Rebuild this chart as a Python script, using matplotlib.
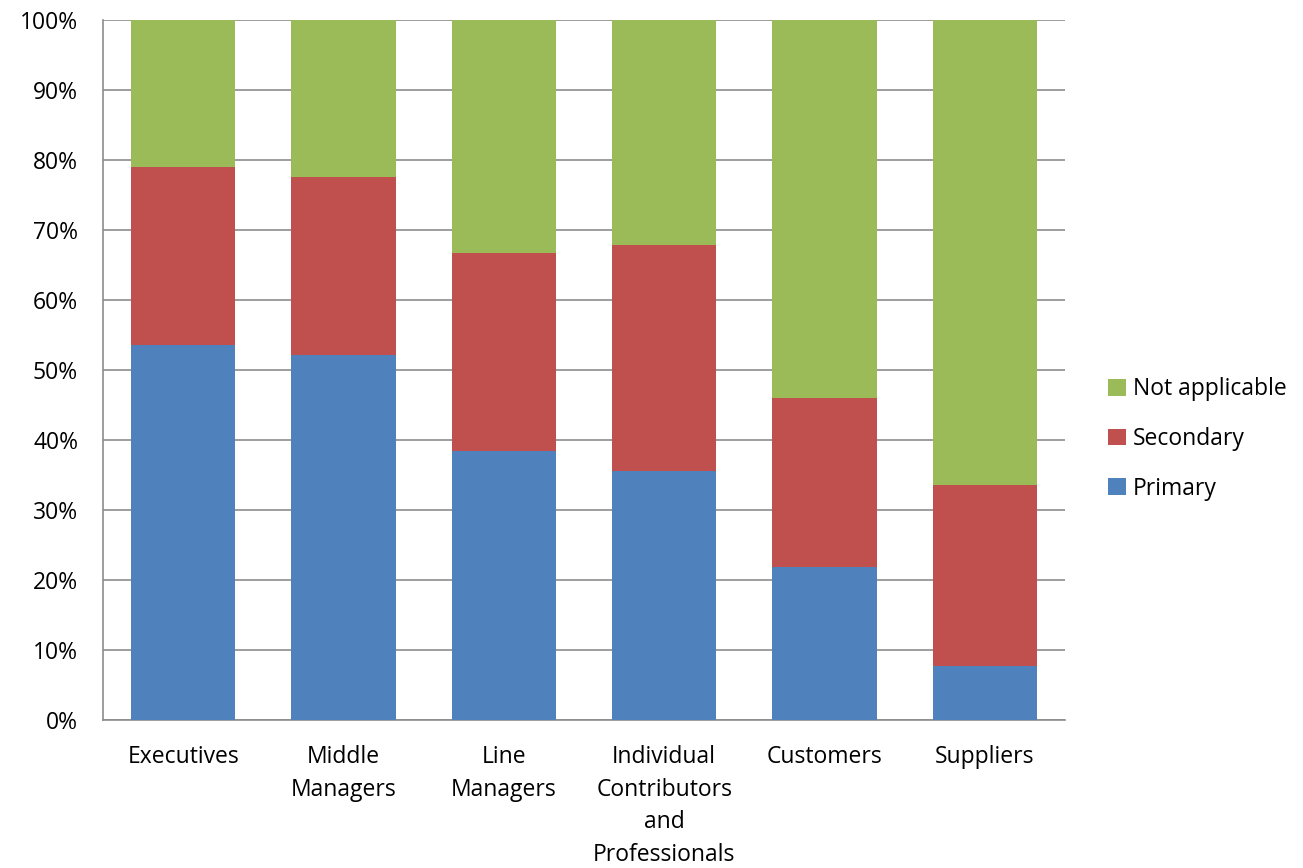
import matplotlib
matplotlib.use("Agg")
import matplotlib.pyplot as plt
import numpy as np

categories = ["Executives", "Middle\nManagers", "Line\nManagers",
              "Individual\nContributors\nand\nProfessionals", "Customers", "Suppliers"]
primary = [53.6, 52.1, 38.4, 35.6, 21.9, 7.7]
secondary_top = [79.0, 77.6, 66.7, 67.9, 46.0, 33.6]
secondary = [s - p for s, p in zip(secondary_top, primary)]
not_applicable = [100 - s for s in secondary_top]
yticks = [0, 10, 20, 30, 40, 50, 60, 70, 80, 90, 100]
ytick_labels = [f"{v}%" for v in yticks]

plt.rcParams['font.family'] = ['Open Sans', 'DejaVu Sans']
FS = 16.5

fig = plt.figure(figsize=(13.03, 8.68), dpi=100)
ax = fig.add_axes([103/1303, 1 - 720/868, (1065-103)/1303, 700/868])

x = np.arange(len(categories))
w = 0.65
c_p, c_s, c_n = "#4F81BD", "#C0504D", "#9BBB59"
b1 = ax.bar(x, primary, w, color=c_p, label="Primary", zorder=3)
b2 = ax.bar(x, secondary, w, bottom=primary, color=c_s, label="Secondary", zorder=3)
b3 = ax.bar(x, not_applicable, w, bottom=secondary_top, color=c_n, label="Not applicable", zorder=3)

ax.set_xlim(-0.5, len(categories) - 0.5)
ax.set_ylim(0, 100)
ax.set_yticks(yticks)
ax.set_yticklabels(ytick_labels, fontsize=FS)
ax.set_xticks(x)
ax.set_xticklabels(categories, fontsize=FS, linespacing=1.48, va='top')
ax.tick_params(axis='both', length=0, colors='black')
ax.tick_params(axis='y', pad=18)
ax.tick_params(axis='x', pad=18)
ax.grid(axis='y', color='#8c8c8c', linewidth=1.2, zorder=0)
for s in ['top', 'right']:
    ax.spines[s].set_visible(False)
for s in ['left', 'bottom']:
    ax.spines[s].set_color('#8c8c8c')
    ax.spines[s].set_linewidth(1.2)

handles = [b3, b2, b1]
labels = ["Not applicable", "Secondary", "Primary"]
fig.legend(handles, labels, loc='center left', bbox_to_anchor=(1097/1303, 1 - 439/868),
           frameon=False, fontsize=FS, handlelength=0.75, handleheight=0.75,
           handletextpad=0.3, labelspacing=1.12, borderpad=0)

fig.savefig("out.png", dpi=100)
